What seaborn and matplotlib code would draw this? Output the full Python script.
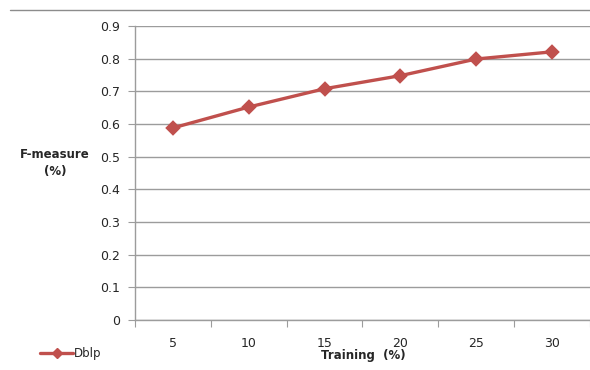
import numpy as np
import pandas as pd
import matplotlib
matplotlib.use('Agg')
import matplotlib.pyplot as plt
from matplotlib.lines import Line2D
import seaborn as sns

# data
training = ['5', '10', '15', '20', '25', '30']
fmeasure = [0.588, 0.652, 0.708, 0.748, 0.799, 0.821]
series = 'Dblp'

sns.set_style('white')
plt.rcParams['font.family'] = ['DejaVu Sans']

df = pd.DataFrame({'Training': training, 'F': fmeasure})

fig = plt.figure(figsize=(5.9, 3.7), dpi=100)
ax = fig.add_axes([0.2288, 0.1351, 0.7712, 0.7946])

red = '#C0504D'
sns.pointplot(data=df, x='Training', y='F', color=red, markers='D',
              linewidth=2.4, markersize=6, ax=ax)

ax.set_xlim(-0.5, 5.5)
ax.set_ylim(0, 0.9)
ax.set_yticks(np.arange(0, 0.91, 0.1))
ax.set_yticklabels(['0', '0.1', '0.2', '0.3', '0.4', '0.5', '0.6', '0.7', '0.8', '0.9'])
ax.yaxis.grid(True, color='#9c9c9c', linewidth=1.0)
ax.set_axisbelow(True)

for s in ['top', 'right']:
    ax.spines[s].set_visible(False)
ax.spines['left'].set_color('#9c9c9c')
ax.spines['bottom'].set_color('#9c9c9c')
ax.spines['left'].set_linewidth(1.0)
ax.spines['bottom'].set_linewidth(1.0)

# category ticks between labels, like the original
ax.set_xticks(np.arange(-0.5, 5.6, 1.0), minor=False)
ax.set_xticklabels([])
ax.set_xticks(np.arange(0, 6), minor=True)
ax.set_xticklabels(training, minor=True)
ax.tick_params(axis='x', which='major', length=5, color='#9c9c9c', direction='out', bottom=True)
ax.tick_params(axis='x', which='minor', length=0, pad=12, labelsize=9, labelcolor='#262626')
ax.tick_params(axis='y', length=5, color='#9c9c9c', direction='out', left=True, pad=6,
               labelsize=9, labelcolor='#262626')

ax.set_xlabel('')
ax.set_ylabel('')
fig.text(0.093, 0.559, 'F-measure\n(%)', ha='center', va='center', fontsize=8.5,
         fontweight='bold', linespacing=1.4, color='#262626')
fig.text(0.615, 0.022, 'Training  (%)', ha='center', va='bottom', fontsize=8.5,
         fontweight='bold', color='#262626')

# chart frame line on top
fig.add_artist(Line2D([0.017, 1.0], [0.973, 0.973], transform=fig.transFigure,
                      color='#8c8c8c', linewidth=1.0))

handle = Line2D([], [], color=red, marker='D', linewidth=2.4, markersize=5)
fig.legend([handle], [series], loc='center left', bbox_to_anchor=(0.06, 0.045),
           frameon=False, fontsize=8.5, handlelength=2.8, handletextpad=0.1,
           borderaxespad=0)

fig.savefig('out.png', dpi=100)
